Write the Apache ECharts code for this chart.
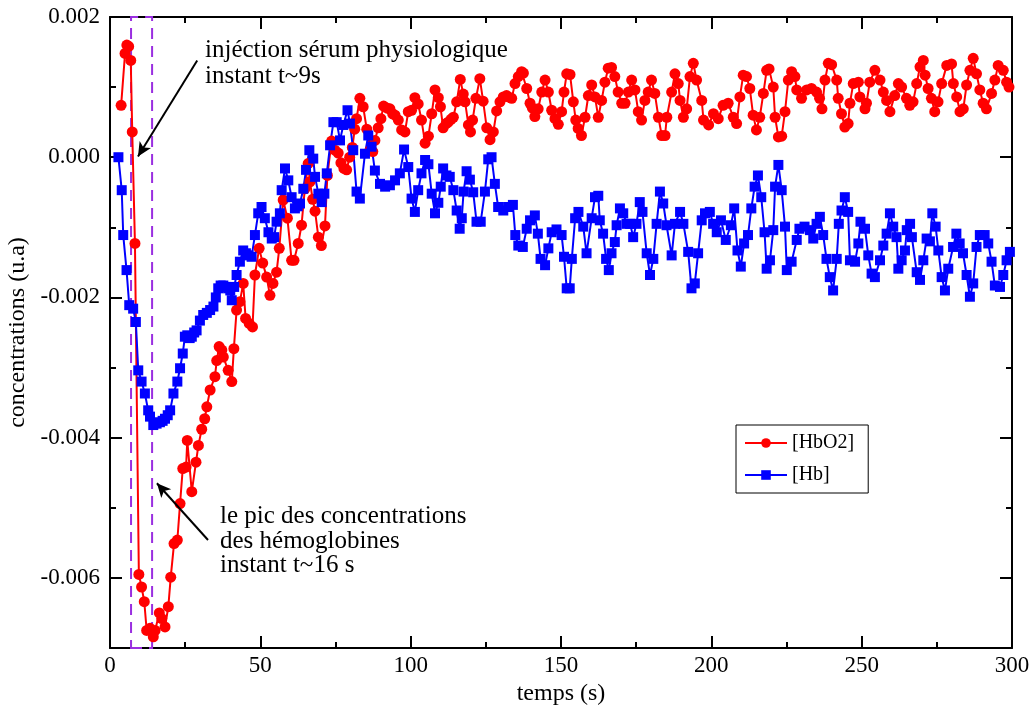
<!DOCTYPE html>
<html>
<head>
<meta charset="utf-8">
<script src="https://cdn.jsdelivr.net/npm/echarts@6/dist/echarts.min.js"></script>
<style>
html,body{margin:0;padding:0;background:#fff;}
#chart{width:1034px;height:707px;}
</style>
</head>
<body>
<div id="chart"></div>
<script>
// [time (s), concentration (u.a)]
const hbo2Points = [
[3.7,0.00074],[5.0,0.00148],[5.6,0.0016],[6.2,0.00158],[6.9,0.00138],[7.4,0.00036],[8.3,-0.00123],[9.6,-0.00595],[10.5,-0.00613],[11.4,-0.00634],
[12.2,-0.00675],[13.3,-0.00672],[14.4,-0.00684],[15.0,-0.00675],[16.4,-0.0065],[17.2,-0.00658],[18.3,-0.0067],[19.4,-0.00641],[20.2,-0.00599],[21.3,-0.00551],
[22.4,-0.00546],[23.3,-0.00494],[24.2,-0.00444],[25.3,-0.00442],[25.7,-0.00404],[27.2,-0.00477],[28.6,-0.00435],[29.4,-0.00411],[30.5,-0.00388],[31.5,-0.00373],
[32.2,-0.00356],[33.3,-0.00332],[34.9,-0.00313],[35.5,-0.0029],[36.3,-0.0027],[37.2,-0.00275],[37.7,-0.00285],[39.3,-0.00304],[40.5,-0.0032],[41.2,-0.00273],
[42.1,-0.00218],[43.2,-0.00206],[44.3,-0.0018],[45.1,-0.0023],[46.3,-0.00237],[47.4,-0.00242],[48.2,-0.00168],[49.6,-0.0013],[50.8,-0.00151],[52.1,-0.00171],
[53.2,-0.00197],[54.2,-0.0018],[55.4,-0.00164],[56.3,-0.0013],[57.6,-0.00061],[59.0,-0.00087],[60.4,-0.00147],[61.2,-0.00147],[62.6,-0.00123],[63.7,-0.00097],
[64.8,-0.00045],[65.9,-0.00009],[66.5,-0.00035],[67.4,-0.0006],[68.2,-0.00077],[69.3,-0.00114],[70.3,-0.00126],[71.5,-0.00098],[72.3,-0.00026],[73.7,0.00023],
[74.8,0.0001],[75.9,0.00006],[76.8,-0.00008],[77.8,-0.00016],[78.7,-0.00018],[79.7,0.0],[80.6,0.00014],[81.4,0.0004],[82.0,0.00055],[83.1,0.00084],
[84.2,0.00072],[85.4,0.0004],[86.5,0.0001],[87.4,0.00008],[88.1,0.00024],[89.2,0.00042],[90.1,0.00055],[91.0,0.00073],[92.2,0.0007],[93.1,0.00069],
[94.0,0.00062],[94.8,0.0006],[95.9,0.00053],[97.0,0.00039],[98.1,0.00036],[99.2,0.00065],[100.3,0.00067],[101.4,0.00085],[102.5,0.00076],[103.6,0.00053],
[104.8,0.0002],[105.9,0.0003],[107.0,0.00062],[108.1,0.00096],[109.2,0.00085],[109.9,0.00072],[110.8,0.00042],[111.8,0.00048],[112.5,0.0005],[113.4,0.00054],
[114.2,0.00057],[115.3,0.00079],[116.5,0.00111],[117.5,0.0009],[118.1,0.00079],[119.2,0.00046],[119.9,0.00036],[120.6,0.00053],[121.7,0.00084],[123.0,0.00112],
[124.1,0.0008],[125.3,0.00042],[126.4,0.00025],[127.5,0.00036],[128.6,0.00066],[129.7,0.00079],[130.8,0.00086],[131.9,0.00088],[132.5,0.00086],[133.6,0.00084],
[134.7,0.00105],[135.8,0.00115],[136.9,0.00122],[137.5,0.0012],[138.6,0.00098],[139.7,0.00077],[140.5,0.0007],[141.3,0.00058],[142.4,0.00069],[143.6,0.00093],
[144.7,0.0011],[145.8,0.00093],[146.9,0.00067],[148.0,0.00055],[149.1,0.00047],[150.2,0.00065],[151.0,0.00093],[151.9,0.00119],[153.0,0.00118],[154.1,0.00079],
[154.9,0.00053],[155.7,0.00041],[156.8,0.00031],[158.0,0.00057],[159.1,0.00088],[160.2,0.00103],[161.3,0.00086],[162.4,0.00057],[163.5,0.00081],[164.6,0.00107],
[165.7,0.00127],[166.8,0.00128],[167.9,0.00115],[169.0,0.00093],[170.2,0.00077],[171.3,0.00077],[172.4,0.00093],[173.5,0.0011],[174.6,0.00096],[175.7,0.00065],
[176.8,0.00053],[177.9,0.00081],[179.0,0.00093],[180.1,0.0011],[181.2,0.00091],[182.4,0.00057],[183.5,0.00031],[184.6,0.00031],[185.2,0.00057],[186.8,0.00093],
[187.9,0.00119],[189.0,0.00105],[189.6,0.00081],[190.7,0.00057],[191.8,0.00069],[192.9,0.00115],[194.0,0.00134],[195.1,0.0011],[196.8,0.00081],[197.4,0.00053],
[199.1,0.00046],[200.7,0.00062],[202.3,0.00055],[203.9,0.00074],[205.6,0.00077],[207.3,0.00057],[208.4,0.00048],[209.5,0.00086],[210.6,0.00117],[211.7,0.00115],
[212.8,0.00098],[213.9,0.0006],[215.0,0.00039],[216.1,0.00057],[217.3,0.00091],[218.4,0.00124],[219.2,0.00126],[220.6,0.001],[221.2,0.00057],[222.3,0.00029],
[223.4,0.0003],[224.5,0.00065],[225.6,0.0011],[226.7,0.00122],[227.8,0.00115],[228.4,0.00096],[230.0,0.00084],[231.7,0.00096],[233.3,0.00098],[235.0,0.00093],
[236.0,0.00084],[236.8,0.00069],[237.8,0.0011],[238.9,0.00134],[240.0,0.00132],[241.7,0.0011],[242.2,0.00084],[243.3,0.00062],[244.4,0.00043],[245.5,0.00048],
[246.1,0.00077],[247.2,0.00105],[248.9,0.00107],[249.4,0.00086],[251.1,0.00069],[251.6,0.00077],[252.7,0.00107],[254.4,0.00124],[256.1,0.0011],[257.2,0.00093],
[258.3,0.00081],[259.4,0.00065],[261.0,0.00088],[262.2,0.00105],[263.3,0.001],[264.9,0.00084],[266.0,0.00074],[267.1,0.00079],[268.3,0.00105],[269.4,0.00129],
[270.5,0.00138],[271.1,0.00117],[272.1,0.00098],[273.2,0.00084],[274.3,0.00065],[275.4,0.00079],[276.6,0.00105],[278.3,0.00131],[279.9,0.00133],[280.5,0.00105],
[281.6,0.00086],[282.7,0.00065],[283.8,0.00069],[284.9,0.00103],[286.0,0.00124],[287.1,0.00141],[288.2,0.00119],[289.3,0.00096],[290.4,0.00077],[291.5,0.00069],
[293.2,0.00091],[294.3,0.0011],[295.4,0.00131],[297.1,0.00124],[298.2,0.00107],[299.0,0.001]
];

const hbPoints = [
[2.8,0.0],[3.9,-0.00047],[4.4,-0.00111],[5.5,-0.00161],[6.4,-0.00211],[7.7,-0.00216],[8.6,-0.00235],[9.4,-0.00304],[10.5,-0.0032],[11.6,-0.00337],
[12.7,-0.00361],[13.3,-0.0037],[14.4,-0.00382],[15.5,-0.0038],[16.6,-0.00378],[17.5,-0.00376],[18.3,-0.00373],[19.2,-0.00368],[20.0,-0.00361],[21.1,-0.00337],
[22.4,-0.0032],[23.3,-0.00301],[24.2,-0.0028],[24.9,-0.00256],[25.7,-0.00254],[26.5,-0.00258],[27.2,-0.00256],[28.0,-0.0025],[28.8,-0.00247],[29.9,-0.00233],
[31.0,-0.00225],[32.2,-0.00222],[33.3,-0.00218],[34.4,-0.00213],[35.2,-0.002],[36.0,-0.00187],[36.8,-0.00183],[37.7,-0.00183],[38.5,-0.00185],[39.3,-0.00187],
[40.0,-0.0019],[40.5,-0.00204],[41.3,-0.00185],[42.1,-0.00168],[43.2,-0.00149],[44.3,-0.00133],[45.2,-0.00137],[46.0,-0.0014],[47.1,-0.00142],[48.2,-0.00111],
[49.3,-0.0008],[50.4,-0.00071],[51.5,-0.00087],[52.7,-0.00107],[53.8,-0.00116],[54.6,-0.00114],[55.4,-0.00092],[56.5,-0.0008],[57.1,-0.00047],[58.2,-0.00016],
[59.3,-0.00033],[60.4,-0.00057],[61.5,-0.00073],[62.4,-0.0007],[63.2,-0.00066],[64.3,-0.00045],[65.2,-0.00018],[66.3,0.0001],[67.6,-0.00002],[68.2,-0.00028],
[69.3,-0.00052],[70.4,-0.00064],[71.3,-0.00052],[72.1,-0.00023],[73.2,0.00017],[74.3,0.0005],[75.4,0.0005],[76.5,0.00024],[77.6,0.00046],[79.0,0.00067],
[79.8,0.00048],[80.9,0.0001],[82.0,-0.00049],[83.1,-0.00059],[84.8,0.00005],[85.9,0.00031],[87.0,0.00015],[88.1,-0.00019],[89.8,-0.00038],[91.5,-0.00042],
[93.1,-0.0004],[94.8,-0.00033],[96.4,-0.00023],[97.8,0.00011],[99.2,-0.00014],[100.3,-0.00059],[101.4,-0.00078],[102.5,-0.00047],[103.6,-0.00023],[104.8,-0.00004],
[105.9,-0.0001],[107.0,-0.00052],[108.1,-0.0008],[109.2,-0.00065],[110.0,-0.00042],[110.8,-0.00016],[111.9,-0.00026],[113.0,-0.00028],[114.2,-0.00047],[115.3,-0.00076],
[116.3,-0.00102],[117.0,-0.00087],[117.6,-0.00049],[118.6,-0.0002],[119.7,-0.00032],[120.8,-0.0005],[121.9,-0.00092],[123.3,-0.00092],[124.7,-0.00049],[125.8,-0.00003],
[126.9,0.0],[128.0,-0.00038],[129.1,-0.00071],[130.8,-0.00076],[132.4,-0.00071],[134.0,-0.00068],[134.8,-0.00111],[135.8,-0.00126],[137.3,-0.00128],[138.6,-0.00102],
[139.7,-0.0009],[141.3,-0.00083],[142.3,-0.00109],[143.2,-0.00145],[144.7,-0.00154],[145.8,-0.0013],[146.9,-0.00107],[148.5,-0.00103],[150.2,-0.00111],[151.0,-0.00142],
[151.9,-0.00187],[152.9,-0.00187],[153.6,-0.00145],[154.7,-0.00087],[155.8,-0.00078],[157.4,-0.00099],[158.5,-0.00137],[160.2,-0.00087],[161.3,-0.00057],[162.4,-0.00055],
[162.9,-0.0009],[164.0,-0.00109],[165.0,-0.00145],[165.9,-0.00161],[166.8,-0.00137],[167.9,-0.00121],[168.5,-0.00097],[169.6,-0.00073],[170.7,-0.0008],[171.8,-0.00095],
[173.0,-0.00095],[174.0,-0.00114],[175.1,-0.00095],[176.2,-0.00064],[177.1,-0.00078],[178.5,-0.00137],[179.6,-0.00168],[180.7,-0.00145],[181.8,-0.00095],[182.9,-0.00049],
[184.0,-0.00066],[185.1,-0.00097],[186.8,-0.0014],[187.9,-0.00095],[189.6,-0.00078],[190.7,-0.00095],[192.3,-0.00135],[193.4,-0.00187],[194.5,-0.0018],[195.6,-0.00137],
[196.8,-0.0009],[197.9,-0.0008],[199.5,-0.00078],[200.6,-0.00095],[201.8,-0.00107],[203.2,-0.0009],[204.8,-0.00118],[206.5,-0.00097],[207.6,-0.00073],[208.7,-0.00133],
[209.8,-0.00156],[210.9,-0.00123],[212.2,-0.00111],[213.3,-0.00073],[214.4,-0.00042],[215.5,-0.00026],[216.6,-0.00057],[217.7,-0.00107],[218.4,-0.00159],[219.5,-0.00147],
[220.6,-0.00104],[221.2,-0.00042],[222.3,-0.00011],[223.4,-0.00047],[224.5,-0.00099],[225.1,-0.00161],[226.7,-0.00149],[228.4,-0.00118],[229.3,-0.00102],[231.0,-0.00099],
[232.8,-0.00104],[233.9,-0.00116],[235.0,-0.00095],[236.1,-0.00085],[237.2,-0.00111],[238.3,-0.00145],[239.4,-0.00171],[240.5,-0.0019],[241.7,-0.00145],[242.4,-0.00095],
[243.3,-0.00076],[244.4,-0.00057],[245.5,-0.00078],[246.1,-0.00147],[247.8,-0.00149],[248.9,-0.00123],[249.6,-0.00092],[251.1,-0.00102],[252.2,-0.0014],[253.3,-0.00166],
[254.4,-0.00171],[256.1,-0.00147],[257.2,-0.00126],[258.3,-0.00109],[259.4,-0.0008],[260.5,-0.00099],[261.6,-0.00114],[262.2,-0.00159],[263.3,-0.00147],[264.4,-0.00133],
[265.0,-0.00104],[266.1,-0.00095],[266.7,-0.00114],[268.3,-0.00164],[269.4,-0.00175],[270.5,-0.00147],[271.6,-0.00116],[272.7,-0.0012],[273.5,-0.0008],[274.6,-0.00099],
[275.5,-0.00133],[276.6,-0.00171],[277.7,-0.0019],[278.8,-0.00159],[280.4,-0.00128],[281.5,-0.00109],[282.6,-0.00123],[283.7,-0.00137],[284.9,-0.00168],[286.0,-0.00199],
[287.1,-0.0018],[288.2,-0.00128],[289.3,-0.00111],[290.9,-0.00111],[292.1,-0.00123],[293.2,-0.00149],[294.3,-0.00183],[296.0,-0.00185],[297.1,-0.00168],[298.2,-0.00147],
[299.3,-0.00135]
];

const seriesNames = ['[HbO2]', '[Hb]'];
const xTicks = [0, 50, 100, 150, 200, 250, 300];
const yMajorTicks = [-0.006, -0.004, -0.002, 0, 0.002];
const yMinorTicks = [-0.005, -0.003, -0.001, 0.001];
const injectionWindow = [7, 14];         // dashed rectangle (s)
const arrowInjection = [[29.0, 0.00138], [9.3, 0.00001]];
const arrowPeak = [[32.6, -0.00546], [15.6, -0.00465]];
const noteInjection = ['injéction sérum physiologique', 'instant t~9s'];
const notePeak = ['le pic des concentrations', 'des hémoglobines', 'instant t~16 s'];

const FONT = '"Liberation Serif", "Times New Roman", serif';
const chart = echarts.init(document.getElementById('chart'), null, {renderer: 'canvas'});

const axisLineStyle = {color: '#000', width: 2};
function xAxisDef(pos, labels) {
  return {
    type: 'value', position: pos, min: 0, max: 300, interval: 50,
    axisLine: {show: true, onZero: false, lineStyle: axisLineStyle},
    axisTick: {show: true, inside: true, length: 12, lineStyle: {color: '#000', width: 2}},
    minorTick: {show: true, splitNumber: 2, length: 6, lineStyle: {color: '#000', width: 2}},
    splitLine: {show: false},
    axisLabel: {show: labels, color: '#000', fontFamily: FONT, fontSize: 23, margin: 6},
    name: labels ? 'temps (s)' : '', nameLocation: 'middle', nameGap: 30,
    nameTextStyle: {color: '#000', fontFamily: FONT, fontSize: 24}
  };
}
function yAxisDef(pos, ticks, len, labels, line) {
  return {
    type: 'value', position: pos, min: -0.007, max: 0.002, interval: 0.001,
    axisLine: {show: line, onZero: false, lineStyle: axisLineStyle},
    axisTick: {show: true, inside: true, length: len, customValues: ticks, lineStyle: {color: '#000', width: 2}},
    splitLine: {show: false},
    axisLabel: {show: labels, customValues: yMajorTicks, color: '#000', fontFamily: FONT, fontSize: 23, margin: 10,
      formatter: v => (Math.abs(v) < 1e-12 ? 0 : v).toFixed(3)},
    name: labels ? 'concentrations (u.a)' : '', nameLocation: 'middle', nameGap: 80,
    nameTextStyle: {color: '#000', fontFamily: FONT, fontSize: 24}
  };
}

const option = {
  animation: false,
  backgroundColor: '#fff',
  grid: {left: 110, right: 22, top: 17, bottom: 59, containLabel: false, outerBoundsMode: 'none'},
  xAxis: [xAxisDef('bottom', true), xAxisDef('top', false)],
  yAxis: [
    yAxisDef('left', yMajorTicks, 12, true, true),
    yAxisDef('left', yMinorTicks, 6, false, false),
    yAxisDef('right', yMajorTicks, 12, false, true),
    yAxisDef('right', yMinorTicks, 6, false, false)
  ],
  legend: {
    data: seriesNames, orient: 'vertical', left: 736, top: 425,
    backgroundColor: '#fff', borderColor: '#000', borderWidth: 1, borderRadius: 0,
    padding: [8, 14, 8, 8], itemGap: 12, itemWidth: 42, itemHeight: 12,
    textStyle: {color: '#000', fontFamily: FONT, fontSize: 20}
  },
  graphic: [
    {type: 'text', left: 205, top: 37, style: {text: noteInjection.join('\n'), font: '25px ' + FONT, fill: '#000', lineHeight: 26}},
    {type: 'text', left: 220, top: 504, style: {text: notePeak.join('\n'), font: '25px ' + FONT, fill: '#000', lineHeight: 24.5}}
  ],
  series: [
    {
      name: seriesNames[0], type: 'line', data: hbo2Points, xAxisIndex: 0, yAxisIndex: 0,
      symbol: 'circle', symbolSize: 11, showAllSymbol: true,
      lineStyle: {color: '#ff0000', width: 2}, itemStyle: {color: '#ff0000'},
      markArea: {
        silent: true,
        itemStyle: {color: 'rgba(0,0,0,0)', borderColor: '#9a2ee0', borderWidth: 2, borderType: [11, 7]},
        data: [[{xAxis: injectionWindow[0], yAxis: -0.007}, {xAxis: injectionWindow[1], yAxis: 0.002}]]
      }
    },
    {
      name: seriesNames[1], type: 'line', data: hbPoints, xAxisIndex: 0, yAxisIndex: 0,
      symbol: 'rect', symbolSize: 10, showAllSymbol: true,
      lineStyle: {color: '#0000ff', width: 2}, itemStyle: {color: '#0000ff'},
      markLine: {
        silent: true, animation: false,
        lineStyle: {color: '#000', width: 2, type: 'solid'},
        symbol: ['none', 'arrow'], symbolSize: [10, 14],
        label: {show: false},
        data: [
          [{coord: arrowInjection[0]}, {coord: arrowInjection[1]}],
          [{coord: arrowPeak[0]}, {coord: arrowPeak[1]}]
        ]
      }
    }
  ]
};
chart.setOption(option);
</script>
</body>
</html>
